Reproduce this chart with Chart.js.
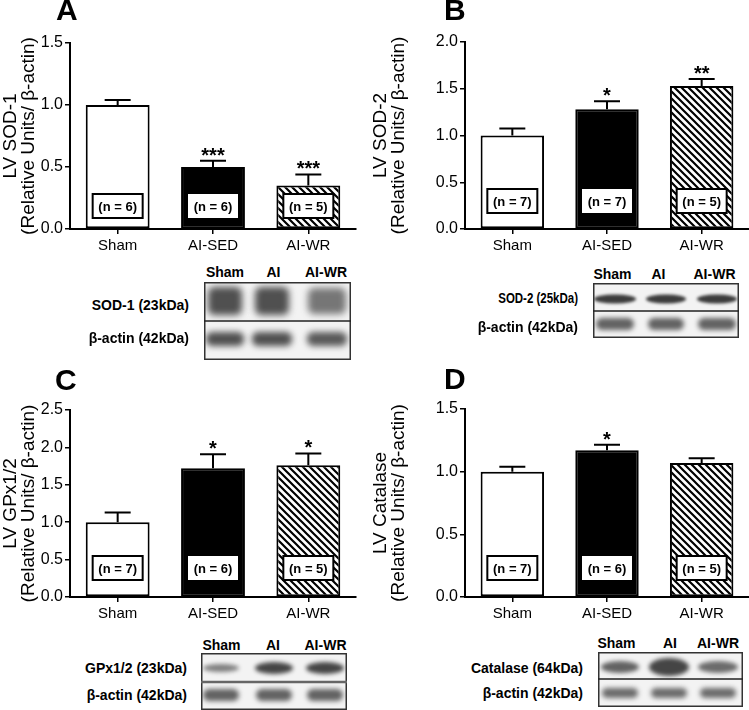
<!DOCTYPE html>
<html><head><meta charset="utf-8">
<script src="https://cdn.jsdelivr.net/npm/chart.js@4.4.0/dist/chart.umd.min.js"></script>
<style>
html,body{margin:0;padding:0;background:#fff;}
#fig{position:relative;width:749px;height:710px;overflow:hidden;font-family:"Liberation Sans",Arial,sans-serif;color:#000;}
canvas{position:absolute;}
.lbl{position:absolute;font-weight:bold;white-space:nowrap;line-height:1;}
.hd{font-size:14px;transform:translate(-50%,-50%);}
.side{font-size:14px;transform:translate(-100%,-50%);transform-origin:100% 50%;}
.narrow{transform:translate(-100%,-50%) scaleX(0.82);}
.letter{position:absolute;font-weight:bold;font-size:30px;line-height:1;}
</style></head><body><div id="fig">
<canvas id="cA" style="left:0;top:0" width="370" height="262"></canvas>
<canvas id="cB" style="left:370px;top:0" width="379" height="262"></canvas>
<canvas id="cC" style="left:0;top:360px" width="370" height="262"></canvas>
<canvas id="cD" style="left:370px;top:360px" width="379" height="262"></canvas>
<canvas id="bA" style="left:204px;top:282px" width="147" height="78"></canvas>
<canvas id="bB" style="left:593px;top:283px" width="146" height="55"></canvas>
<canvas id="bC" style="left:201px;top:653px" width="146" height="57"></canvas>
<canvas id="bD" style="left:598px;top:652px" width="145" height="55"></canvas>
<div class="letter" style="left:56px;top:-5px">A</div>
<div class="letter" style="left:444px;top:-5px">B</div>
<div class="letter" style="left:55px;top:365px">C</div>
<div class="letter" style="left:444px;top:364px">D</div>
</div>
<script>
// ---------- data ----------
const categories = ['Sham', 'AI-SED', 'AI-WR'];
const blotLanes = ['Sham', 'AI', 'AI-WR'];

const sod1Mean = [1.00, 0.50, 0.35];
const sod1Sem  = [0.04, 0.05, 0.09];
const sod1N    = [6, 6, 5];
const sod1Sig  = ['', '***', '***'];

const sod2Mean = [1.00, 1.28, 1.53];
const sod2Sem  = [0.075, 0.085, 0.075];
const sod2N    = [7, 7, 5];
const sod2Sig  = ['', '*', '**'];

const gpxMean = [1.00, 1.72, 1.76];
const gpxSem  = [0.13, 0.19, 0.16];
const gpxN    = [7, 6, 5];
const gpxSig  = ['', '*', '*'];

const catMean = [1.00, 1.17, 1.07];
const catSem  = [0.04, 0.045, 0.037];
const catN    = [7, 6, 5];
const catSig  = ['', '*', ''];

const yTicksA = [0, 0.5, 1.0, 1.5];
const yTicksB = [0, 0.5, 1.0, 1.5, 2.0];
const yTicksC = [0, 0.5, 1.0, 1.5, 2.0, 2.5];
const yTicksD = [0, 0.5, 1.0, 1.5];

// ---------- styling ----------
const FAM = '"Liberation Sans", Arial, sans-serif';
Chart.defaults.font.family = FAM;
Chart.defaults.color = '#000';

function hatchPattern() {
  const s = 7;
  const c = document.createElement('canvas'); c.width = s; c.height = s;
  const x = c.getContext('2d');
  x.fillStyle = '#fff'; x.fillRect(0, 0, s, s);
  x.strokeStyle = '#000'; x.lineWidth = 2.2; x.lineCap = 'square';
  x.beginPath();
  x.moveTo(-s, -s); x.lineTo(2 * s, 2 * s);
  x.moveTo(-s, 0); x.lineTo(s, 2 * s);
  x.moveTo(0, -s); x.lineTo(2 * s, s);
  x.stroke();
  return x.createPattern(c, 'repeat');
}

function makeChart(id, mean, sem, nArr, sig, yTicks, title, area, nOffset) {
  const cv = document.getElementById(id);
  const W = cv.width, H = cv.height;
  const yMax = yTicks[yTicks.length - 1];
  const annot = {
    id: 'annot_' + id,
    afterDatasetsDraw(chart) {
      const ctx = chart.ctx, y = chart.scales.y;
      const meta = chart.getDatasetMeta(0);
      meta.data.forEach((bar, i) => {
        const x = bar.x;
        const top = y.getPixelForValue(mean[i]);
        const cap = y.getPixelForValue(mean[i] + sem[i]);
        ctx.save();
        ctx.strokeStyle = '#000'; ctx.lineWidth = 2;
        ctx.beginPath();
        ctx.moveTo(x, top); ctx.lineTo(x, cap);
        ctx.moveTo(x - 13, cap); ctx.lineTo(x + 13, cap);
        ctx.stroke();
        if (sig[i]) {
          ctx.fillStyle = '#000';
          ctx.font = 'bold 20px ' + FAM;
          ctx.textAlign = 'center'; ctx.textBaseline = 'alphabetic';
          ctx.fillText(sig[i], x, cap + 1);
        }
        const by = y.bottom - nOffset, bw = 50, bh = 24;
        ctx.fillStyle = '#fff';
        ctx.fillRect(x - bw / 2, by - bh / 2, bw, bh);
        if (i !== 1) { ctx.lineWidth = 2; ctx.strokeRect(x - bw / 2, by - bh / 2, bw, bh); }
        ctx.fillStyle = '#000';
        ctx.font = 'bold 13px ' + FAM;
        ctx.textAlign = 'center'; ctx.textBaseline = 'middle';
        ctx.fillText('(n = ' + nArr[i] + ')', x, by + 1);
        ctx.restore();
      });
    }
  };
  return new Chart(cv, {
    type: 'bar',
    data: {
      labels: categories,
      datasets: [{
        data: mean,
        backgroundColor: ['#ffffff', '#000000', hatchPattern()],
        borderColor: '#000', borderWidth: 2, borderSkipped: false,
        barPercentage: 0.67, categoryPercentage: 1.0
      }]
    },
    options: {
      responsive: false, animation: false, devicePixelRatio: 1,
      layout: { padding: { left: 0, top: area.top, right: W - area.right, bottom: 0 } },
      plugins: { legend: { display: false }, tooltip: { enabled: false } },
      scales: {
        x: {
          ticks: { color: '#000', font: { size: 15 }, padding: 3 },
          grid: { display: true, drawOnChartArea: false, offset: false, drawTicks: true, tickLength: 5, color: '#000', lineWidth: 1.5 },
          border: { display: true, color: '#000', width: 2 },
          afterFit(s) { s.height = H - area.bottom; }
        },
        y: {
          min: 0, max: yMax,
          afterBuildTicks(s) { s.ticks = yTicks.map(v => ({ value: v })); },
          ticks: { color: '#000', font: { size: 16 }, padding: 2, callback: v => Number(v).toFixed(1) },
          grid: { display: true, drawOnChartArea: false, drawTicks: true, tickLength: 5, color: '#000', lineWidth: 1.5 },
          border: { display: true, color: '#000', width: 2 },
          title: { display: true, text: title, color: '#000', font: { size: 19, lineHeight: 0.98 }, padding: { top: 1, bottom: 0 } },
          afterFit(s) { s.width = area.left; }
        }
      }
    },
    plugins: [annot]
  });
}

makeChart('cA', sod1Mean, sod1Sem, sod1N, sod1Sig, yTicksA, ['LV SOD-1', '(Relative Units/ β-actin)'], { left: 70, right: 356, top: 43, bottom: 229 }, 23);
makeChart('cB', sod2Mean, sod2Sem, sod2N, sod2Sig, yTicksB, ['LV SOD-2', '(Relative Units/ β-actin)'], { left: 95, right: 379, top: 42, bottom: 229 }, 28);
makeChart('cC', gpxMean, gpxSem, gpxN, gpxSig, yTicksC, ['LV GPx1/2', '(Relative Units/ β-actin)'], { left: 70, right: 356, top: 50, bottom: 237 }, 29);
makeChart('cD', catMean, catSem, catN, catSig, yTicksD, ['LV Catalase', '(Relative Units/ β-actin)'], { left: 95, right: 379, top: 49, bottom: 237 }, 29);

// ---------- western blot panels (decorative images) ----------
const fig = document.getElementById('fig');
function addLabel(text, cls, x, y) {
  const d = document.createElement('div');
  d.className = 'lbl ' + cls; d.textContent = text;
  d.style.left = x + 'px'; d.style.top = y + 'px';
  fig.appendChild(d);
}
function drawBlot(id, spec) {
  const c = document.getElementById(id), ctx = c.getContext('2d');
  const w = c.width, h = c.height;
  ctx.fillStyle = '#f3f3f3'; ctx.fillRect(0, 0, w, h);
  spec.lanes.forEach((lx, i) => {
    spec.bands.forEach(b => {
      ctx.filter = 'blur(' + b.blur + 'px)';
      ctx.fillStyle = 'rgba(50,50,50,' + b.alpha[i] + ')';
      ctx.beginPath();
      if (b.rect) {
        ctx.roundRect(lx - b.rw[i], b.y - b.rh[i], 2 * b.rw[i], 2 * b.rh[i], 6);
      } else {
        ctx.ellipse(lx, b.y, b.rw[i], b.rh[i], 0, 0, Math.PI * 2);
      }
      ctx.fill();
    });
  });
  ctx.filter = 'none';
  ctx.strokeStyle = '#333'; ctx.lineWidth = 1.5;
  ctx.strokeRect(0.75, 0.75, w - 1.5, h - 1.5);
  ctx.strokeStyle = spec.divColor; ctx.lineWidth = spec.divW;
  ctx.beginPath(); ctx.moveTo(0, spec.div); ctx.lineTo(w, spec.div); ctx.stroke();
}
drawBlot('bA', { div: 39, divColor: '#222', divW: 1.5, lanes: [21, 68, 123],
  bands: [ { rect: true, blur: 3.5, y: 19, rw: [17, 17, 19], rh: [14, 14, 13], alpha: [0.85, 0.85, 0.65] },
           { rect: true, blur: 3, y: 57, rw: [19, 20, 20], rh: [7, 7, 7], alpha: [0.85, 0.85, 0.8] } ] });
drawBlot('bB', { div: 28, divColor: '#222', divW: 1.5, lanes: [22, 73, 124],
  bands: [ { blur: 1.8, y: 16, rw: [21, 20, 20], rh: [4.5, 4.5, 4.5], alpha: [0.95, 0.95, 0.95] },
           { rect: true, blur: 2.5, y: 41, rw: [19, 18, 19], rh: [6, 6, 6], alpha: [0.75, 0.75, 0.75] } ] });
drawBlot('bC', { div: 29, divColor: '#666', divW: 2.5, lanes: [20, 73, 124],
  bands: [ { blur: 2.2, y: 15, rw: [18, 19, 19], rh: [4, 6, 6], alpha: [0.6, 0.9, 0.9] },
           { rect: true, blur: 2.5, y: 42, rw: [18, 18, 18], rh: [6, 6, 6], alpha: [0.75, 0.75, 0.75] } ] });
drawBlot('bD', { div: 27, divColor: '#222', divW: 1.5, lanes: [22, 71, 120],
  bands: [ { blur: 2.2, y: 15, rw: [19, 20, 20], rh: [6, 9, 6], alpha: [0.75, 0.9, 0.7] },
           { rect: true, blur: 2.5, y: 41, rw: [18, 18, 18], rh: [5, 5, 5], alpha: [0.7, 0.7, 0.7] } ] });

const headA = [225, 273.5, 326], headB = [612.5, 658.5, 714.5], headC = [221.5, 273, 325.5], headD = [616.5, 670, 718];
blotLanes.forEach((t, i) => {
  addLabel(t, 'hd', headA[i], 272);
  addLabel(t, 'hd', headB[i], 274);
  addLabel(t, 'hd', headC[i], 645);
  addLabel(t, 'hd', headD[i], 643);
});
addLabel('SOD-1 (23kDa)', 'side', 189, 305);
addLabel('β-actin (42kDa)', 'side', 189, 338);
addLabel('SOD-2 (25kDa)', 'side narrow', 578, 298);
addLabel('β-actin (42kDa)', 'side', 578, 326.5);
addLabel('GPx1/2 (23kDa)', 'side', 187, 668);
addLabel('β-actin (42kDa)', 'side', 187, 695);
addLabel('Catalase (64kDa)', 'side', 583, 667.5);
addLabel('β-actin (42kDa)', 'side', 583, 693);
</script>
</body></html>
